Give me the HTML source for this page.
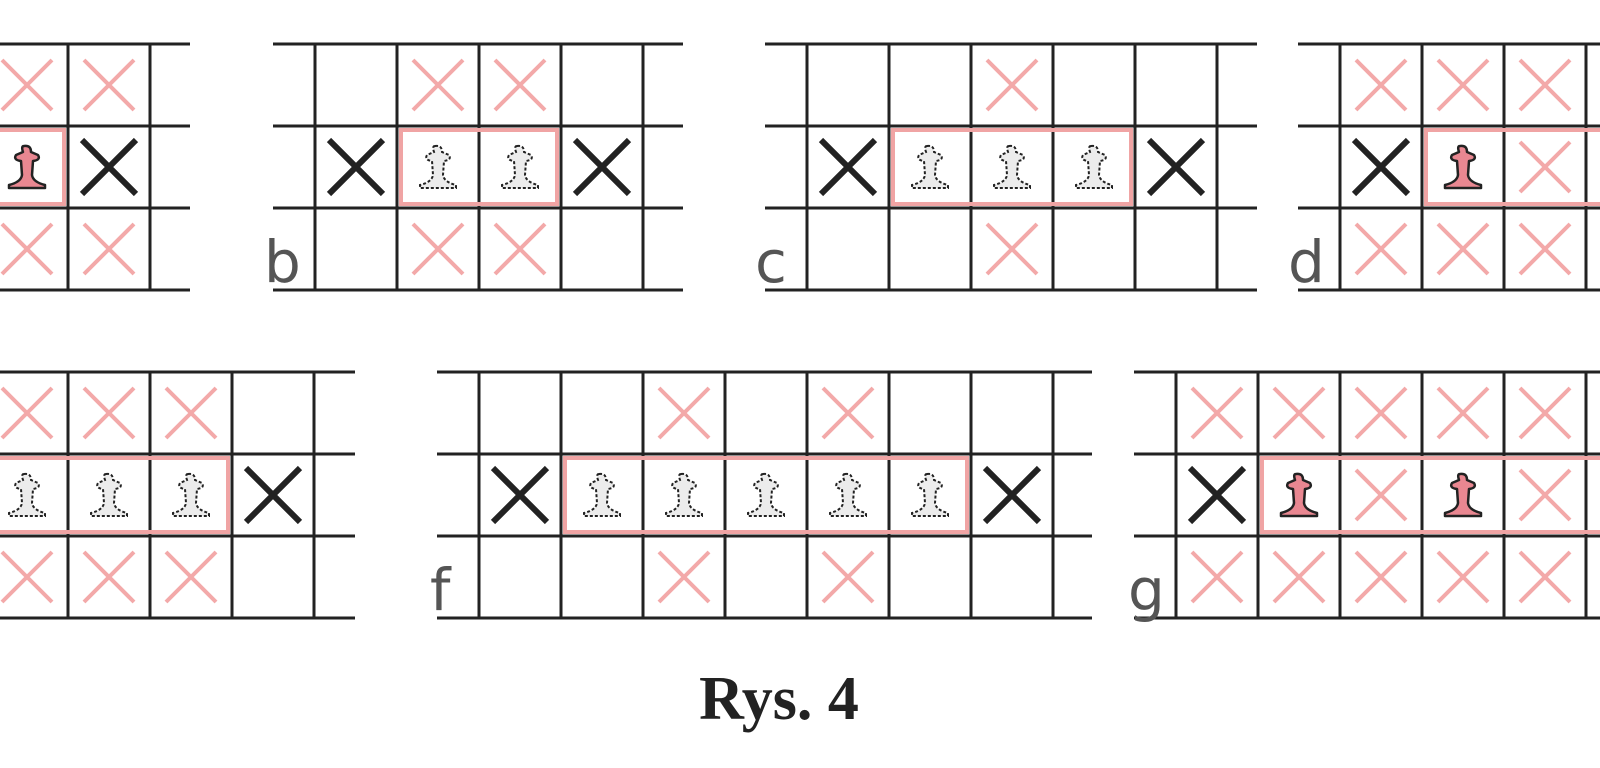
<!DOCTYPE html>
<html><head><meta charset="utf-8"><style>
html,body{margin:0;padding:0;background:#fff;width:1600px;height:768px;overflow:hidden}
svg{display:block}
</style></head><body>
<svg id="s" width="1600" height="768" xmlns="http://www.w3.org/2000/svg">
<text x="779" y="719" text-anchor="middle" font-family="'Liberation Serif',serif" font-weight="bold" font-size="62" fill="#222">Rys. 4</text>
</svg>
<script>
var s=document.getElementById('s'),out='';
var C=82;
var PAWN='M -3,-22 Q 4,-23 4,-16 L 11,-13 Q 14,-8 6,-7 L 5,7 Q 6,14 18,17 L 18,20 L -18,20 L -18,17 Q -6,14 -5,7 L -6,-7 Q -14,-8 -11,-13 L -4,-16 Q -6,-22 -3,-22 Z';
function panel(x0,x1,vx,top,rows,label,box){
  for(var i=0;i<4;i++){var y=top+i*C;out+='<line x1="'+x0+'" y1="'+y+'" x2="'+x1+'" y2="'+y+'" stroke="#222" stroke-width="3"/>';}
  vx.forEach(function(x){out+='<line x1="'+x+'" y1="'+top+'" x2="'+x+'" y2="'+(top+3*C)+'" stroke="#222" stroke-width="3"/>';});
  if(box){out+='<rect x="'+(box[0]+4)+'" y="'+(top+C+4)+'" width="'+(box[1]-box[0]-8)+'" height="'+(C-8)+'" fill="none" stroke="#f0a4a4" stroke-width="4"/>';}
  rows.forEach(function(r,ri){
    var cy=top+ri*C+C/2;
    r.forEach(function(it){
      var cx=it[0]+C/2,t=it[1];
      if(t=='r'){var d=25;out+='<path d="M'+(cx-d)+','+(cy-d)+'L'+(cx+d)+','+(cy+d)+'M'+(cx+d)+','+(cy-d)+'L'+(cx-d)+','+(cy+d)+'" stroke="#f3a9a9" stroke-width="4" fill="none"/>';}
      else if(t=='k'){var d=27;out+='<path d="M'+(cx-d)+','+(cy-d)+'L'+(cx+d)+','+(cy+d)+'M'+(cx+d)+','+(cy-d)+'L'+(cx-d)+','+(cy+d)+'" stroke="#222" stroke-width="6" fill="none"/>';}
      else if(t=='p'){out+='<path transform="translate('+cx+','+(cy+1)+')" d="'+PAWN+'" fill="#e98791" stroke="#222" stroke-width="2.5" stroke-linejoin="round"/>';}
      else if(t=='d'){out+='<path transform="translate('+cx+','+(cy+1)+')" d="'+PAWN+'" fill="#ececec" stroke="#222" stroke-width="2" stroke-dasharray="3,2"/>';}
    });
  });
  if(label){out+='<text x="'+label[0]+'" y="'+(top+3*C-8)+'" font-family="\'DejaVu Sans\',\'Liberation Sans\',sans-serif" font-size="58" fill="#555">'+label[1]+'</text>';}
}
function R(cols,t){return cols.map(function(c){return [c,t];});}
panel(0,190,[68,150],44,[R([-14,68],'r'),[[-14,'p'],[68,'k']],R([-14,68],'r')],null,[-20,68]);
panel(273,683,[315,397,479,561,643],44,[R([397,479],'r'),[[315,'k'],[397,'d'],[479,'d'],[561,'k']],R([397,479],'r')],[264,'b'],[397,561]);
panel(765,1257,[807,889,971,1053,1135,1217],44,[R([971],'r'),[[807,'k'],[889,'d'],[971,'d'],[1053,'d'],[1135,'k']],R([971],'r')],[755,'c'],[889,1135]);
panel(1298,1600,[1340,1422,1504,1586],44,[R([1340,1422,1504],'r'),[[1340,'k'],[1422,'p'],[1504,'r']],R([1340,1422,1504],'r')],[1288,'d'],[1422,1640]);
panel(0,355,[68,150,232,314],372,[R([-14,68,150],'r'),[[-14,'d'],[68,'d'],[150,'d'],[232,'k']],R([-14,68,150],'r')],null,[-20,232]);
panel(437,1092,[479,561,643,725,807,889,971,1053],372,[R([643,807],'r'),[[479,'k'],[561,'d'],[643,'d'],[725,'d'],[807,'d'],[889,'d'],[971,'k']],R([643,807],'r')],[430,'f'],[561,971]);
panel(1134,1600,[1176,1258,1340,1422,1504,1586],372,[R([1176,1258,1340,1422,1504],'r'),[[1176,'k'],[1258,'p'],[1340,'r'],[1422,'p'],[1504,'r']],R([1176,1258,1340,1422,1504],'r')],[1128,'g'],[1258,1640]);
s.insertAdjacentHTML('beforeend',out);
</script>
</body></html>
